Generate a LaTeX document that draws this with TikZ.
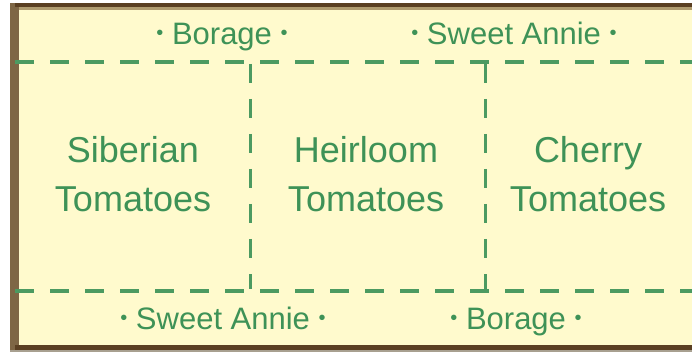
\documentclass[tikz,border=0pt]{standalone}
\usepackage{fontspec}
\setmainfont{Liberation Sans}
\usetikzlibrary{positioning}
\definecolor{bedfill}{HTML}{FFFACD}
\definecolor{bedgreen}{HTML}{3E9257}
\definecolor{dashgreen}{HTML}{4C9A61}
\definecolor{framebrown}{HTML}{7E6645}
\definecolor{framedark}{HTML}{5A3F22}
\definecolor{frametan}{HTML}{B09C70}
\definecolor{framegray}{HTML}{A8A090}
\tikzset{
	edgetext/.style={font=\fontsize{31}{36}\selectfont\color{bedgreen}, anchor=base, inner sep=0pt}
}
\tikzset{
	bedtext/.style={font=\fontsize{36}{49}\selectfont\color{bedgreen}, align=center, anchor=base, inner sep=0pt}
}
\tikzset{
	rowline/.style={dashgreen, line width=4pt, dash pattern=on 19pt off 16pt}
}
\tikzset{
	colline/.style={dashgreen, line width=3pt, dash pattern=on 19pt off 16pt}
}
\newcommand{\bdot}{\raisebox{5pt}{\fontsize{20}{20}\selectfont\textbullet}}

\begin{document}
\begin{tikzpicture}[x=1pt, y=-1pt]
      \useasboundingbox (0,0) rectangle (692,352);
      % bed and frame
      \fill[bedfill] (19,10) rectangle (692,345);
      \fill[framebrown] (10,3) rectangle (19,350);
      \fill[framedark] (15,3) rectangle (692,7);
      \fill[frametan] (19,7) rectangle (692,10);
      \fill[framedark] (15,345) rectangle (692,350);
      \fill[framegray] (10,350) rectangle (692,352);
      % dashed rows, columns between them
      \coordinate (rowtopL) at (15,62);
      \coordinate (rowtopR) at (692,62);
      \coordinate (rowbotL) at (15,291);
      \coordinate (rowbotR) at (692,291);
      \coordinate (colAtop) at (250,64);
      \coordinate (colAbot) at (250,289);
      \coordinate (colBtop) at (485,64);
      \coordinate (colBbot) at (485,289);
      \draw[colline] (colAtop) -- (colAbot);
      \draw[colline] (colBtop) -- (colBbot);
      \draw[rowline] (rowtopL) -- (rowtopR);
      \draw[rowline] (rowbotL) -- (rowbotR);
      % border plants
      \node[edgetext] (borageTop) at (222,45) {\bdot\ Borage \bdot};
      \node[edgetext] (annieTop) at (514,45) {\bdot\ Sweet Annie \bdot};
      \node[edgetext] (annieBot) at (223,329) {\bdot\ Sweet Annie \bdot};
      \node[edgetext] (borageBot) at (516,329) {\bdot\ Borage \bdot};
      % tomato beds (base = last line)
      \node[bedtext] (siberian) at (133,212) {Siberian\\Tomatoes};
      \node[bedtext] (heirloom) at (366,212) {Heirloom\\Tomatoes};
      \node[bedtext] (cherry) at (588,212) {Cherry\\Tomatoes};
    \end{tikzpicture}
\end{document}
